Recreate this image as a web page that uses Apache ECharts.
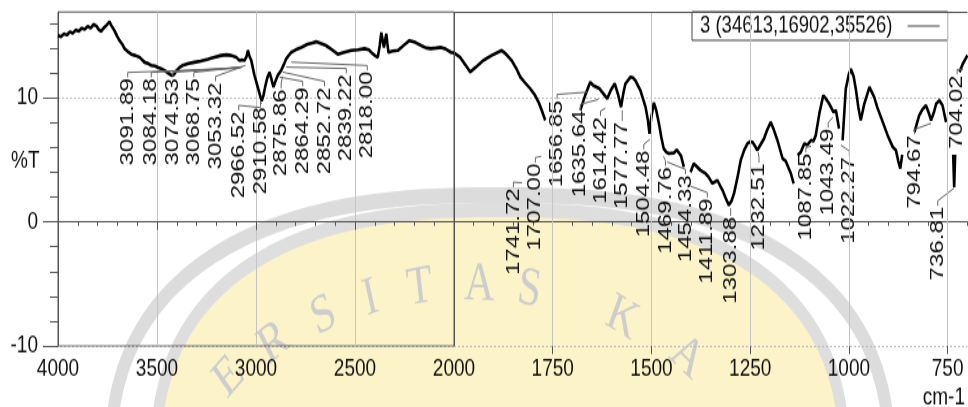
<!DOCTYPE html>
<html>
<head>
<meta charset="utf-8">
<script src="https://cdn.jsdelivr.net/npm/echarts@6.0.0/dist/echarts.min.js"></script>
<style>
html { overflow: hidden; }
html, body { margin: 0; padding: 0; background: #fff; width: 968px; height: 407px; }
/* the original print is stretched vertically, so the chart is drawn at 968x313 and scaled */
#ir { width: 968px; height: 313px; transform: scaleY(1.3003); transform-origin: 0 0; }
</style>
</head>
<body>
<div id="ir"></div>
<script>
var specName = '3 (34613,16902,35526)';

// 4000 - 2000 cm-1 (wavenumber, %T)
var hiWn = [4000, 3985, 3970, 3955, 3940, 3925, 3910, 3895, 3880, 3865, 3850, 3835, 3820, 3805, 3795, 3782,
    3770, 3757, 3748, 3740, 3730, 3715, 3700, 3689, 3675, 3664, 3650, 3630, 3610, 3588, 3575, 3563, 3545,
    3529, 3510, 3496, 3480, 3462, 3445, 3428, 3415, 3403, 3385, 3370, 3340, 3311, 3280, 3243, 3210, 3176,
    3150, 3125, 3100, 3083, 3070, 3058, 3048, 3041, 3032, 3024, 3016, 3008, 2991, 2980, 2971, 2962, 2954,
    2943, 2932, 2922, 2912, 2900, 2890, 2873, 2860, 2848, 2835, 2822, 2800, 2772, 2740, 2715, 2696, 2670,
    2646, 2615, 2587, 2555, 2519, 2485, 2452, 2430, 2418, 2400, 2385, 2375, 2367, 2360, 2354, 2348, 2342,
    2336, 2331, 2310, 2284, 2255, 2225, 2195, 2166, 2140, 2116, 2090, 2065, 2040, 2015, 2000];
var hiT = [15.0, 14.9, 15.15, 15.05, 15.3, 15.2, 15.45, 15.35, 15.6, 15.5, 15.75, 15.6, 15.9, 15.75, 15.5, 15.35,
    15.6, 15.8, 15.95, 16.1, 15.8, 15.4, 14.9, 14.6, 14.3, 13.95, 13.75, 13.5, 13.4, 13.25, 13.05, 12.85, 12.75,
    12.6, 12.55, 12.45, 12.35, 12.2, 12.0, 11.8, 11.85, 12.15, 12.45, 12.6, 12.75, 12.85, 12.95, 13.1, 13.25, 13.4,
    13.45, 13.4, 13.25, 13.0, 13.05, 13.0, 13.3, 13.8, 13.3, 13.0, 12.4, 11.8, 10.85, 10.2, 9.75, 10.2, 10.85,
    11.6, 12.05, 11.5, 10.85, 11.4, 11.8, 12.2, 12.65, 13.1, 13.4, 13.65, 13.85, 14.05, 14.3, 14.4, 14.5, 14.35,
    14.2, 13.85, 13.5, 13.65, 13.8, 13.85, 13.95, 13.85, 13.65, 13.4, 13.25, 14.2, 15.25, 14.6, 14.05, 14.6, 15.15,
    14.3, 13.65, 13.75, 13.8, 14.2, 14.6, 14.45, 14.2, 14.0, 13.95, 14.0, 14.05, 13.9, 13.65, 13.6];

// 2000 - 700 cm-1, null = break in the trace
var loWn = [2000, 1985, 1970, 1959, 1945, 1926, 1905, 1879, 1868, 1854, 1843, 1832, 1820, 1807, 1795, 1786,
    1778, 1769, 1768, 1680, 1668, 1655, 1648, 1642, 1632, 1625, 1612, 1603, 1593, 1585, 1577, 1571, 1566,
    1553, 1547, 1541, 1528, 1515, 1509, 1505, 1500, 1494, 1488, 1481, 1475, 1469, 1462, 1456, 1443, 1436,
    1431, 1425, 1418, 1414, 1401, 1393, 1385, 1376, 1363, 1355, 1346, 1333, 1326, 1320, 1312, 1304, 1297,
    1291, 1282, 1274, 1265, 1257, 1250, 1244, 1238, 1232, 1224, 1215, 1207, 1198, 1190, 1181, 1168, 1160,
    1155, 1147, 1140, 1135, 1130, 1122, 1113, 1105, 1096, 1090, 1084, 1075, 1065, 1058, 1050, 1039, 1033,
    1025, 1021, 1016, 1008, 1000, 995, 988, 982, 976, 970, 961, 948, 936, 928, 919, 902, 889, 881, 875, 870,
    865, 855, 834, 822, 815, 805, 798, 792, 785, 779, 771, 763, 754, 745, 736, 733.5, 731, 726, 720, 712,
    707, 700];
var loT = [13.6, 13.26, 12.6, 12.06, 12.45, 13.0, 13.4, 13.8, 13.5, 13.0, 12.4, 11.66, 11.2, 10.73, 10.2, 9.65,
    9.0, 8.18, null, 8.98, 10.18, 11.25, 11.0, 10.9, 10.75, 10.45, 9.92, 10.6, 11.13, 10.3, 9.25, 10.4, 11.13,
    11.66, 11.6, 11.39, 10.59, 9.25, 8.2, 7.11, 8.5, 9.6, 9.0, 7.9, 6.8, 5.9, 5.6, 5.5, 5.55, 5.8,
    6.0, 5.3, 4.42, null, 4.0, 4.7, 4.45, 4.16, 3.89, 3.6, 3.09, 3.35, 2.9, 2.55, 1.9, 1.34, 1.7,
    2.28, 3.6, 4.96, 5.8, 6.3, 6.45, 6.43, 6.1, 5.76, 6.2, 6.7, 7.4, 8.04, 7.4, 6.57, 5.1, 4.9,
    4.7, 3.9, 3.09, null, 5.36, 5.6, 6.3, 6.2, 6.57, 6.5, 6.97, 8.71, 10.18, 9.9, 9.52, 8.84, 8.98,
    7.51, null, 6.57, 10.7, 11.9, 12.3, 11.7, 10.59, 9.2, 8.18, 9.52, 10.85, 10.05, 9.2, 8.44, 6.97, 6.03, 5.76, 4.9, 4.29,
    5.4, null, 7.24, 8.58, 9.0, 9.38, 8.8, 8.18, 8.8, 9.52, 9.78, 9.38, 8.04, null, 5.4, 2.8, 5.4, null, 12.06, 12.7,
    13.0, 13.4];

// peak labels
var peakHi = [3091.89, 3084.18, 3074.53, 3068.75, 3053.32, 2966.52, 2910.58, 2875.86, 2864.29, 2852.72, 2839.22, 2818.00];
var peakLo = [1741.72, 1707.00, 1656.85, 1635.64, 1614.42, 1577.77, 1504.48, 1469.76, 1454.33, 1411.89, 1303.88,
    1232.51, 1087.85, 1043.49, 1022.27, 794.67, 736.81, 704.02];

// label placement: [label x (cm-1), label top (%T), leader tip x (cm-1), leader tip (%T)]
var peakHiPlace = [[3648, 11.55, 3083, 12.36], [3529, 11.55, 3078, 12.44], [3420, 11.55, 3073, 12.44],
    [3314, 11.55, 3068, 12.5], [3204, 11.23, 3053, 12.6], [3087, 8.9, 2975, 9.2], [2977, 9.22, 2972, 9.5],
    [2873, 10.67, 2866, 11.7], [2764, 10.83, 2881, 11.66], [2654, 10.83, 2865, 12.06],
    [2544, 11.87, 2847, 12.46], [2438, 12.11, 2822, 12.86]];
var peakLoPlace = [[1849.5, 2.71, 1828, 3.15], [1794, 4.69, 1779, 5.28], [1739, 9.78, 1662, 10.45],
    [1680, 8.98, 1634.5, 9.86], [1629, 8.44, 1617, 9.14], [1574, 8.04, 1574, 8.98], [1519.5, 5.76, 1504, 6.65],
    [1464.5, 4.42, 1469.5, 5.28], [1414, 3.75, 1460, 4.82], [1358.6, 1.88, 1401, 2.87], [1299.5, 0.4, 1299.5, 1.1],
    [1227.7, 4.69, 1229.7, 5.6], [1109, 5.5, 1096, 6.09], [1052.5, 7.51, 1040.6, 8.42], [999, 5.22, 1020, 6.17],
    [834, 6.97, 792, 7.93], [775, 1.21, 734, 2.71], [726, 11.79, 711, 12.27]];

var xTicksLo = [750, 1000, 1250, 1500, 1750];
var yTicks = [-10, 0, 10];
var yMinor = [-8, -6, -4, -2, 2, 4, 6, 8, 12, 14, 16];

// faint watermark behind the plot (letters and their angle in degrees from vertical)
var wmLetters = ['E', 'R', 'S', 'I', 'T', 'A', 'S', 'K', 'A'];
var wmAngles = [-42, -33, -24, -16, -8, 1.5, 9.5, 25, 37];

var sans = "'Liberation Sans', Arial, sans-serif";
var axisCol = '#555';
var SY = 1.3003;

function pairs(wn, t) {
    return wn.map(function (w, i) { return [w, t[i] === null ? '-' : t[i]]; });
}

function plain(v) { return String(v); }

function peakSeries(xIdx, yIdx, vals, place) {
    return {
        type: 'custom',
        xAxisIndex: xIdx,
        yAxisIndex: yIdx,
        silent: true,
        z: 4,
        data: vals.map(function (v, i) { return place[i].concat([v]); }),
        renderItem: function (params, api) {
            var top = api.coord([api.value(0), api.value(1)]);
            var tip = api.coord([api.value(2), api.value(3)]);
            var txt = api.value(4).toFixed(2);
            return {
                type: 'group',
                children: [{
                    type: 'polyline',
                    shape: { points: [tip, [top[0], top[1] - 4.6], [top[0], top[1] - 0.8]] },
                    style: { stroke: '#666', fill: null, lineWidth: 1 }
                }, {
                    type: 'text',
                    x: top[0],
                    y: top[1],
                    rotation: Math.PI / 2,
                    style: {
                        text: txt, align: 'right', verticalAlign: 'middle',
                        font: '18.5px ' + sans, fill: '#111'
                    }
                }]
            };
        }
    };
}

// rounded shield outline of the watermark (page pixels, y squeezed for the scaled div)
function blob(cx, cy, rx, ry, n) {
    var pts = [];
    for (var k = 0; k < 180; k++) {
        var t = k * Math.PI / 90, c = Math.cos(t), s = Math.sin(t);
        var x = cx + rx * (c < 0 ? -1 : 1) * Math.pow(Math.abs(c), 2 / n);
        var y = cy + ry * (s < 0 ? -1 : 1) * Math.pow(Math.abs(s), 2 / n);
        pts.push([x, y / SY]);
    }
    return pts;
}

var wm = [
    { type: 'polygon', z: -10, silent: true, shape: { points: blob(500, 470, 390, 275, 2.5) },
      style: { fill: null, stroke: '#dcdcdc', lineWidth: 12 } },
    { type: 'polygon', z: -10, silent: true, shape: { points: blob(500, 470, 345, 260, 2.5) },
      style: { fill: '#fcf4c8', stroke: '#dedede', lineWidth: 11 } }
];
wmLetters.forEach(function (ch, i) {
    var a = wmAngles[i] * Math.PI / 180;
    wm.push({
        type: 'text', z: -9, silent: true,
        x: 470 + 360 * Math.sin(a), y: (645 - 360 * Math.cos(a)) / SY,
        rotation: -a,
        style: { text: ch, font: "42px 'Liberation Serif', serif", fill: '#cdcdcd', align: 'center', verticalAlign: 'middle' }
    });
});

var dom = document.getElementById('ir');
var myChart = echarts.init(dom, null, { renderer: 'canvas' });

var labelStyle = { fontFamily: sans, fontSize: 19, color: '#111' };

var option = {
    animation: false,
    backgroundColor: '#fff',
    legend: {
        data: [specName],
        left: 692, top: 9,
        align: 'right',
        padding: [1.5, 8, 1.5, 8],
        itemWidth: 32, itemHeight: 1,
        icon: 'rect',
        itemStyle: { color: '#444' },
        backgroundColor: '#fff',
        borderColor: '#444', borderWidth: 1, borderRadius: 0,
        selectedMode: false,
        textStyle: { fontFamily: sans, fontSize: 18.5, color: '#111' },
        formatter: function (n) { return n + '  '; }
    },
    grid: [
        { left: 58, top: 9.2, width: 396, height: 256.9, show: true, borderColor: axisCol, borderWidth: 1 },
        { left: 454, top: 9.2, width: 513.4, height: 256.9, show: false }
    ],
    xAxis: [
        {
            gridIndex: 0, type: 'value', min: 2000, max: 4000, interval: 500, inverse: true, position: 'bottom',
            axisLine: { lineStyle: { color: axisCol } },
            axisTick: { length: 6.2, lineStyle: { color: axisCol } },
            minorTick: { show: true, splitNumber: 5, length: 3.1, lineStyle: { color: axisCol } },
            axisLabel: Object.assign({ margin: 8, formatter: plain }, labelStyle),
            splitLine: { show: true, lineStyle: { color: '#c4c4c4', width: 1 } }
        },
        {
            gridIndex: 1, type: 'value', min: 700, max: 2000, interval: 50, inverse: true, position: 'bottom',
            axisLine: { lineStyle: { color: axisCol } },
            axisTick: { length: 3.1, lineStyle: { color: axisCol } },
            axisLabel: { show: false },
            splitLine: { show: false }
        },
        {
            gridIndex: 1, type: 'value', min: 700, max: 2000, inverse: true, position: 'top', offset: -256.9,
            axisLine: { show: false },
            axisTick: { inside: true, length: 6.2, customValues: xTicksLo, lineStyle: { color: axisCol } },
            axisLabel: Object.assign({ inside: true, margin: 8, customValues: xTicksLo, formatter: plain }, labelStyle),
            splitLine: { show: false }
        }
    ],
    yAxis: [
        {
            gridIndex: 0, type: 'value', min: -10, max: 16.9, interval: 10, position: 'left',
            axisLine: { show: true, lineStyle: { color: axisCol } },
            axisTick: { length: 15, customValues: yTicks, lineStyle: { color: axisCol } },
            axisLabel: Object.assign({ margin: 20, customValues: yTicks, formatter: plain }, labelStyle),
            splitLine: { show: true, lineStyle: { color: '#bdbdbd', type: [2, 2] } }
        },
        {
            gridIndex: 0, type: 'value', min: -10, max: 16.9, position: 'right', offset: -396,
            axisLine: { show: false },
            axisTick: { inside: true, length: 8, customValues: yMinor, lineStyle: { color: axisCol } },
            axisLabel: { show: false },
            splitLine: { show: false }
        },
        {
            gridIndex: 1, type: 'value', min: -10, max: 16.9, interval: 10, position: 'left',
            axisLine: { show: false },
            axisTick: { show: false },
            axisLabel: { show: false },
            splitLine: { show: true, lineStyle: { color: '#bdbdbd', type: [2, 2] } }
        }
    ],
    graphic: wm.concat([
        { type: 'text', left: 11, top: 114, style: { text: '%T', font: '19px ' + sans, fill: '#111' } },
        { type: 'text', right: 3, top: 296, style: { text: 'cm-1', font: '19px ' + sans, fill: '#111' } }
    ]),
    series: [
        {
            name: specName, type: 'line', xAxisIndex: 0, yAxisIndex: 0,
            data: pairs(hiWn, hiT), symbol: 'none', connectNulls: false, silent: true, z: 3,
            lineStyle: { color: '#000', width: 2.6 }, itemStyle: { color: '#444' }
        },
        {
            name: specName, type: 'line', xAxisIndex: 1, yAxisIndex: 2,
            data: pairs(loWn, loT), symbol: 'none', connectNulls: false, silent: true, z: 3,
            lineStyle: { color: '#000', width: 2.6 }, itemStyle: { color: '#444' },
            markLine: {
                silent: true, symbol: 'none', label: { show: false }, animation: false,
                lineStyle: { color: '#c4c4c4', type: 'solid', width: 1 },
                data: xTicksLo.map(function (v) { return { xAxis: v }; }).concat([
                    { xAxis: 2000, lineStyle: { color: axisCol, type: 'solid' } },
                    { yAxis: 16.9, lineStyle: { color: axisCol, type: 'solid' } }
                ])
            }
        },
        peakSeries(0, 0, peakHi, peakHiPlace),
        peakSeries(1, 2, peakLo, peakLoPlace)
    ]
};

if (option && typeof option === 'object') {
    myChart.setOption(option);
}

window.addEventListener('resize', myChart.resize);
</script>
</body>
</html>
